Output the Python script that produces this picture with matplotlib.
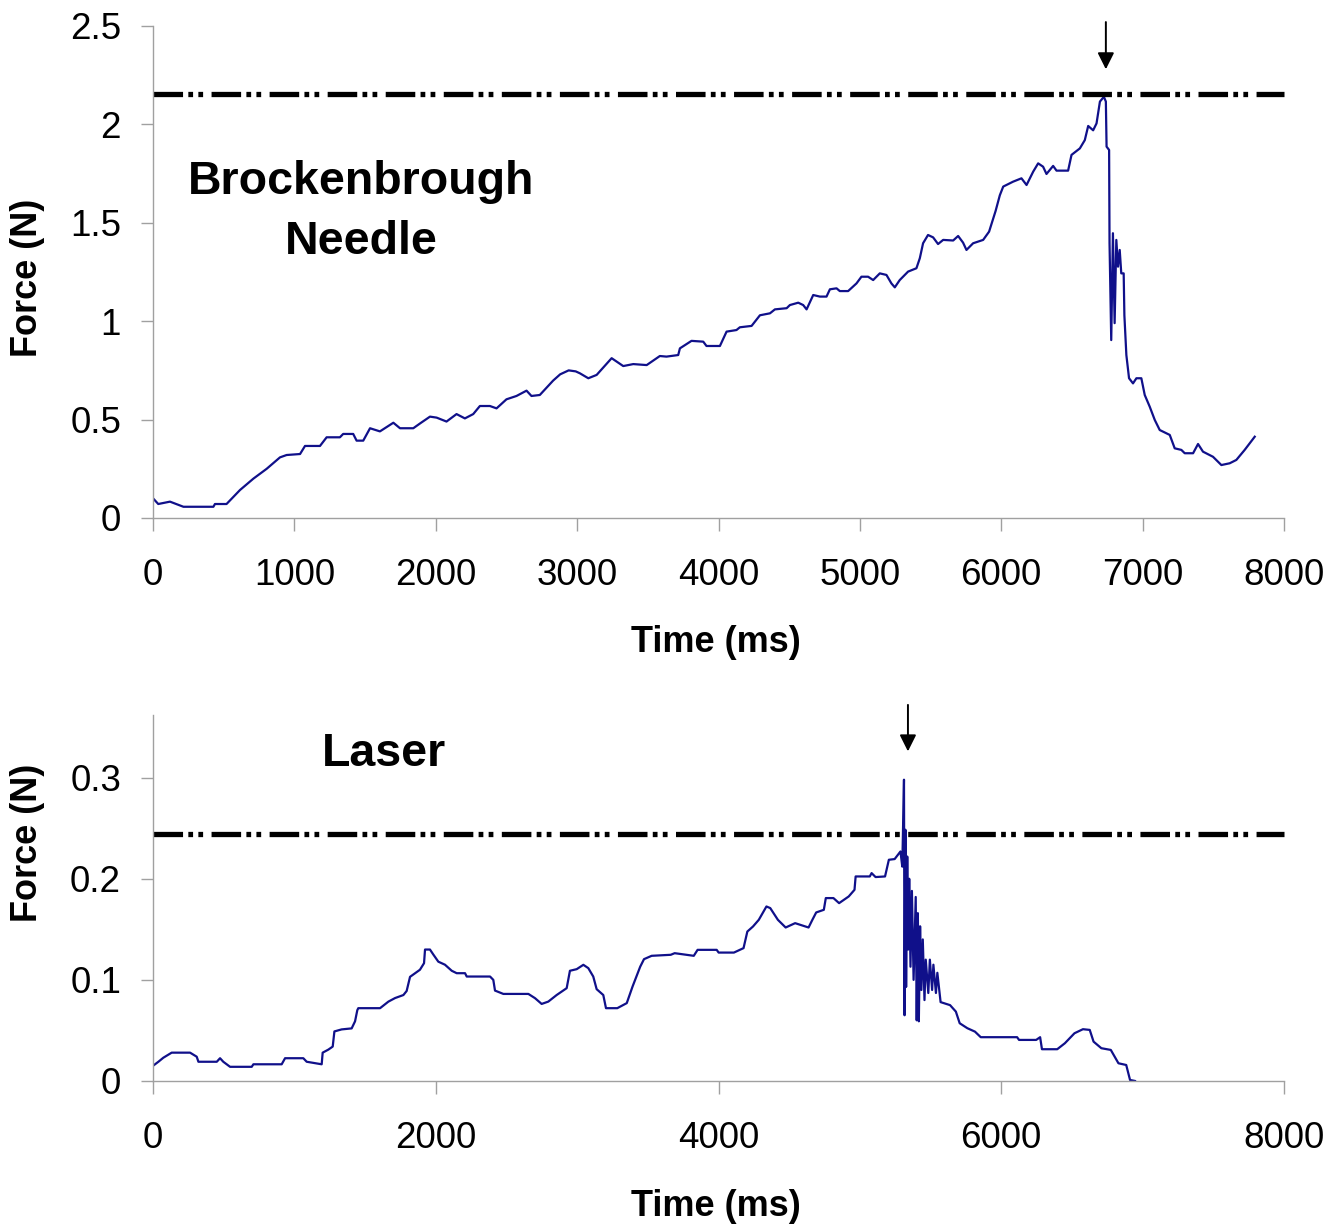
import matplotlib
matplotlib.use('Agg')
import matplotlib.pyplot as plt
from matplotlib.ticker import FuncFormatter

plt.rcParams['font.family'] = ['Liberation Sans', 'DejaVu Sans']

# Brockenbrough needle: time (ms) / force (N)
needle_t = [0, 37, 120, 215, 427, 438, 520, 615, 710, 804, 898, 945, 1040, 1075,
            1181, 1228, 1322, 1345, 1416, 1440, 1487, 1535, 1605, 1700, 1747, 1841,
            1888, 1959, 2006, 2076, 2147, 2206, 2265, 2312, 2383, 2430, 2500, 2571,
            2642, 2677, 2736, 2830, 2880, 2940, 2990, 3020, 3079, 3138, 3244, 3326,
            3397, 3492, 3585, 3632, 3715, 3727, 3809, 3892, 3915, 4010, 4057, 4127,
            4151, 4234, 4293, 4364, 4399, 4482, 4505, 4564, 4599, 4623, 4670, 4717,
            4764, 4788, 4835, 4858, 4917, 4976, 5011, 5058, 5094, 5141, 5188, 5223,
            5247, 5282, 5341, 5400, 5424, 5447, 5482, 5518, 5553, 5589, 5660, 5695,
            5730, 5754, 5801, 5872, 5914, 5960, 5990, 6014, 6084, 6143, 6179, 6226,
            6261, 6296, 6320, 6367, 6391, 6473, 6497, 6556, 6591, 6615, 6650, 6674,
            6698, 6726, 6740, 6745, 6763, 6766, 6778, 6790, 6802, 6814, 6826, 6838,
            6849, 6866, 6871, 6885, 6904, 6932, 6956, 6991, 7015, 7050, 7086, 7121,
            7192, 7227, 7274, 7298, 7357, 7392, 7427, 7498, 7557, 7616, 7663, 7722,
            7793]
needle_f = [0.10, 0.071, 0.083, 0.057, 0.057, 0.071, 0.071, 0.142, 0.20, 0.25, 0.308,
            0.32, 0.325, 0.366, 0.366, 0.41, 0.41, 0.427, 0.427, 0.393, 0.393, 0.456,
            0.44, 0.484, 0.456, 0.456, 0.48, 0.515, 0.51, 0.49, 0.528, 0.506, 0.528,
            0.569, 0.569, 0.557, 0.603, 0.62, 0.647, 0.62, 0.625, 0.698, 0.73, 0.75,
            0.745, 0.735, 0.71, 0.727, 0.812, 0.772, 0.782, 0.777, 0.823, 0.82, 0.828,
            0.862, 0.90, 0.896, 0.874, 0.874, 0.947, 0.955, 0.969, 0.976, 1.03, 1.04,
            1.06, 1.066, 1.082, 1.094, 1.082, 1.06, 1.133, 1.125, 1.125, 1.162, 1.167,
            1.153, 1.153, 1.192, 1.226, 1.226, 1.209, 1.243, 1.235, 1.192, 1.172,
            1.209, 1.252, 1.269, 1.32, 1.396, 1.438, 1.426, 1.392, 1.413, 1.41, 1.433,
            1.399, 1.362, 1.396, 1.413, 1.455, 1.56, 1.64, 1.684, 1.709, 1.726, 1.692,
            1.76, 1.802, 1.785, 1.748, 1.789, 1.765, 1.765, 1.845, 1.878, 1.92, 1.992,
            1.97, 2.005, 2.116, 2.14, 2.116, 1.887, 1.87, 1.396, 0.904, 1.447, 0.99,
            1.413, 1.277, 1.362, 1.243, 1.243, 1.03, 0.828, 0.71, 0.684, 0.71, 0.71,
            0.625, 0.566, 0.498, 0.447, 0.422, 0.354, 0.346, 0.329, 0.329, 0.376,
            0.337, 0.311, 0.269, 0.278, 0.295, 0.346, 0.413]

# Laser
laser_t = [0, 38, 73, 132, 262, 309, 321, 451, 474, 497, 545, 698, 710, 910, 934,
           1063, 1087, 1193, 1200, 1240, 1271, 1283, 1334, 1405, 1429, 1445, 1452,
           1606, 1665, 1712, 1771, 1794, 1818, 1888, 1917, 1924, 1959, 1983, 2018,
           2065, 2113, 2148, 2207, 2219, 2384, 2407, 2419, 2478, 2655, 2702, 2749,
           2796, 2855, 2926, 2949, 2997, 3044, 3079, 3114, 3138, 3185, 3204, 3284,
           3351, 3392, 3446, 3473, 3527, 3662, 3690, 3825, 3852, 3987, 4001, 4109,
           4177, 4204, 4244, 4285, 4339, 4366, 4420, 4475, 4542, 4637, 4664, 4691,
           4745, 4759, 4813, 4853, 4921, 4962, 4970, 5070, 5083, 5111, 5178, 5205,
           5246, 5287, 5300, 5312, 5316, 5322, 5327, 5335, 5342, 5349, 5358, 5368,
           5380, 5395, 5402, 5410, 5417, 5426, 5435, 5445, 5457, 5466, 5484, 5495,
           5511, 5520, 5538, 5548, 5571, 5638, 5679, 5706, 5760, 5814, 5855, 6112,
           6126, 6247, 6275, 6288, 6396, 6450, 6518, 6578, 6626, 6653, 6708, 6775,
           6829, 6884, 6911, 6946]
laser_f = [0.015, 0.019, 0.023, 0.028, 0.028, 0.024, 0.019, 0.019, 0.0225, 0.019,
           0.014, 0.014, 0.0165, 0.0165, 0.0225, 0.0225, 0.019, 0.0165, 0.028, 0.031,
           0.034, 0.049, 0.051, 0.052, 0.059, 0.070, 0.072, 0.072, 0.0785, 0.082,
           0.085, 0.089, 0.103, 0.110, 0.1165, 0.130, 0.130, 0.125, 0.118, 0.115,
           0.109, 0.1066, 0.1066, 0.1033, 0.1033, 0.100, 0.0894, 0.0861, 0.0861,
           0.0819, 0.0762, 0.0785, 0.085, 0.0918, 0.109, 0.1106, 0.1149, 0.1116,
           0.1033, 0.0908, 0.085, 0.072, 0.072, 0.077, 0.0934, 0.113, 0.1205, 0.1238,
           0.1248, 0.1264, 0.1238, 0.1297, 0.1297, 0.127, 0.127, 0.1314, 0.1478,
           0.1528, 0.1594, 0.1726, 0.171, 0.1594, 0.1518, 0.1561, 0.1518, 0.1594,
           0.1667, 0.1693, 0.1809, 0.1809, 0.1759, 0.1825, 0.1891, 0.2023, 0.2023,
           0.2056, 0.2017, 0.2023, 0.2188, 0.2195, 0.227, 0.212, 0.298, 0.065,
           0.2485, 0.093, 0.222, 0.13, 0.20, 0.113, 0.188, 0.10, 0.182, 0.060, 0.166,
           0.059, 0.153, 0.09, 0.14, 0.08, 0.12, 0.087, 0.12, 0.09, 0.115, 0.087,
           0.107, 0.078, 0.075, 0.0686, 0.0571, 0.0522, 0.0488, 0.0433, 0.0433,
           0.0406, 0.0406, 0.0433, 0.0314, 0.0314, 0.0373, 0.0472, 0.0512, 0.0505,
           0.0389, 0.0324, 0.0307, 0.0175, 0.0158, 0.001, 0.0]

needle_limit = 2.155
laser_limit = 0.2446
needle_arrow_t = 6740
laser_arrow_t = 5340

line_col = '#10108a'
axis_col = '#a0a0a0'

fig = plt.figure(figsize=(13.4, 12.26), dpi=100)
ax1 = fig.add_axes([0.1142, 0.5775, 0.8440, 0.4013])
ax2 = fig.add_axes([0.1142, 0.1183, 0.8440, 0.2985])


def style(ax):
    for s in ['top', 'right']:
        ax.spines[s].set_visible(False)
    for s in ['left', 'bottom']:
        ax.spines[s].set_color(axis_col)
        ax.spines[s].set_linewidth(1.0)
    ax.tick_params(direction='out', length=9, width=1.0, color=axis_col,
                   labelsize=26.5)
    ax.tick_params(axis='x', pad=20)
    ax.tick_params(axis='y', pad=14)
    ax.yaxis.set_major_formatter(FuncFormatter(lambda v, p: f'{v:g}'))
    ax.xaxis.set_major_formatter(FuncFormatter(lambda v, p: f'{v:g}'))


# ---- Brockenbrough needle
style(ax1)
ax1.plot(needle_t, needle_f, color=line_col, lw=1.6)
ax1.plot([0, 8000], [needle_limit, needle_limit], color='black', lw=3.8,
         dashes=(5.6, 1.0, 0.9, 1.0, 0.9, 1.6), dash_capstyle='butt',
         clip_on=False)
ax1.set_xlim(0, 8000)
ax1.set_ylim(0, 2.5)
ax1.set_xticks(range(0, 8001, 1000))
ax1.set_yticks([0, 0.5, 1, 1.5, 2, 2.5])
ax1.set_xlabel('Time (ms)', fontsize=26, fontweight='bold')
ax1.set_ylabel('Force (N)', fontsize=26, fontweight='bold')
ax1.xaxis.set_label_coords(0.498, -0.217)
ax1.yaxis.set_label_coords(-0.0955, 0.488)
ax1.text(1471, 1.555, 'Brockenbrough\nNeedle', fontsize=33.5, fontweight='bold',
         ha='center', va='center', multialignment='center', linespacing=1.45)
ax1.annotate('', xy=(needle_arrow_t, 2.28), xytext=(needle_arrow_t, 2.52),
             arrowprops=dict(arrowstyle='-|>', color='black', lw=1.4,
                             mutation_scale=25, shrinkA=0, shrinkB=0),
             annotation_clip=False)

# ---- Laser
style(ax2)
ax2.plot(laser_t, laser_f, color=line_col, lw=1.6)
ax2.plot([0, 8000], [laser_limit, laser_limit], color='black', lw=3.8,
         dashes=(5.6, 1.0, 0.9, 1.0, 0.9, 1.6), dash_capstyle='butt',
         clip_on=False)
ax2.set_xlim(0, 8000)
ax2.set_ylim(0, 0.362)
ax2.set_xticks(range(0, 8001, 2000))
ax2.set_yticks([0, 0.1, 0.2, 0.3])
ax2.set_xlabel('Time (ms)', fontsize=26, fontweight='bold')
ax2.set_ylabel('Force (N)', fontsize=26, fontweight='bold')
ax2.xaxis.set_label_coords(0.498, -0.295)
ax2.yaxis.set_label_coords(-0.0955, 0.65)
ax2.text(1637, 0.323, 'Laser', fontsize=33.5, fontweight='bold',
         ha='center', va='center')
ax2.annotate('', xy=(laser_arrow_t, 0.326), xytext=(laser_arrow_t, 0.372),
             arrowprops=dict(arrowstyle='-|>', color='black', lw=1.4,
                             mutation_scale=25, shrinkA=0, shrinkB=0),
             annotation_clip=False)

fig.savefig('out.png', dpi=100)
